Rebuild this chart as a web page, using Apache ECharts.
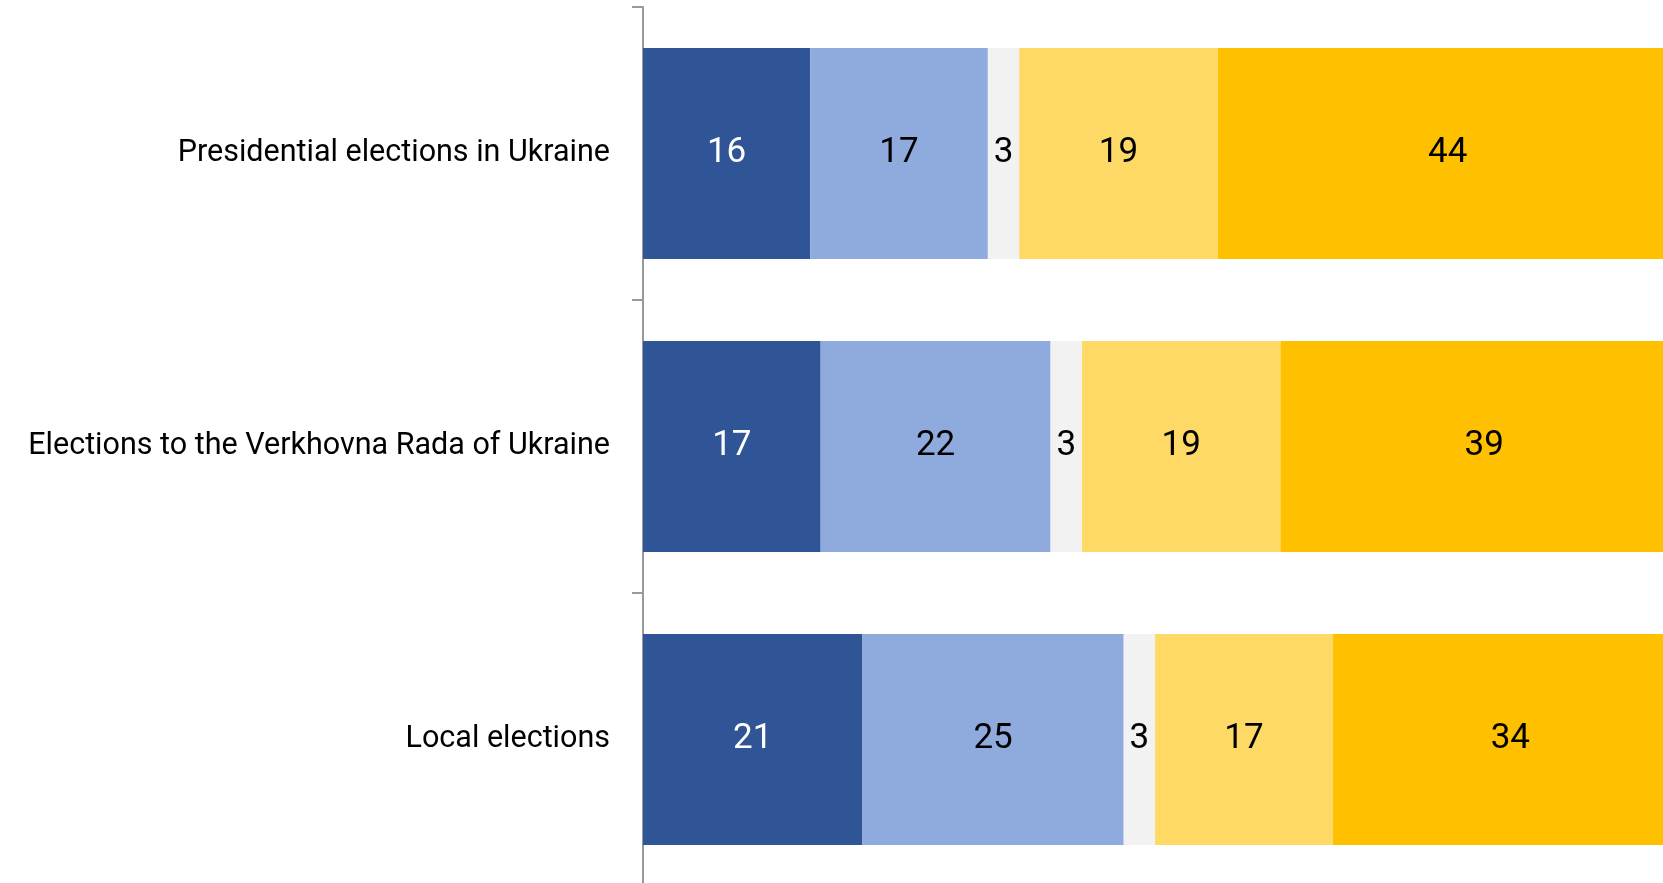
<!DOCTYPE html>
<html>
<head>
<meta charset="utf-8">
<script src="https://cdn.jsdelivr.net/npm/echarts@6/dist/echarts.min.js"></script>
<style>
  html, body { margin: 0; padding: 0; background: #fff; }
  #chart { width: 1663px; height: 883px; }
</style>
</head>
<body>
<div id="chart"></div>
<script>
const categories = [
  "Presidential elections in Ukraine",
  "Elections to the Verkhovna Rada of Ukraine",
  "Local elections"
];
const seriesNames = ["s1", "s2", "s3", "s4", "s5"];
const values1 = [16, 17, 21];
const values2 = [17, 22, 25];
const values3 = [3, 3, 3];
const values4 = [19, 19, 17];
const values5 = [44, 39, 34];
const colors = ["#2F5597", "#8FAADC", "#F2F2F2", "#FFD966", "#FFC000"];
const labelColors = ["#ffffff", "#000000", "#000000", "#000000", "#000000"];

const font = '"Liberation Sans Narrow", "Arial Narrow", Roboto, sans-serif';
const allValues = [values1, values2, values3, values4, values5];

const chart = echarts.init(document.getElementById("chart"));
chart.setOption({
  animation: false,
  grid: { left: 643, right: -25, top: 7, bottom: -3, outerBoundsMode: "none", containLabel: false },
  xAxis: {
    type: "value",
    min: 0,
    max: 100,
    show: false
  },
  yAxis: {
    type: "category",
    inverse: true,
    data: categories,
    axisLine: { show: true, lineStyle: { color: "#9a9a9a", width: 2 } },
    axisTick: { show: true, inside: false, length: 11, lineStyle: { color: "#9a9a9a", width: 2 } },
    axisLabel: {
      margin: 33,
      fontSize: 30.5,
      fontFamily: font,
      color: "#000000",
      padding: [6, 0, 0, 0]
    }
  },
  series: allValues.map((vals, i) => ({
    name: seriesNames[i],
    type: "bar",
    stack: "total",
    clip: true,
    barWidth: 211,
    data: vals,
    itemStyle: { color: colors[i] },
    label: {
      show: true,
      position: "inside",
      fontSize: 35,
      fontFamily: font,
      color: labelColors[i],
      padding: [6, 0, 0, 0]
    }
  }))
});
</script>
</body>
</html>
